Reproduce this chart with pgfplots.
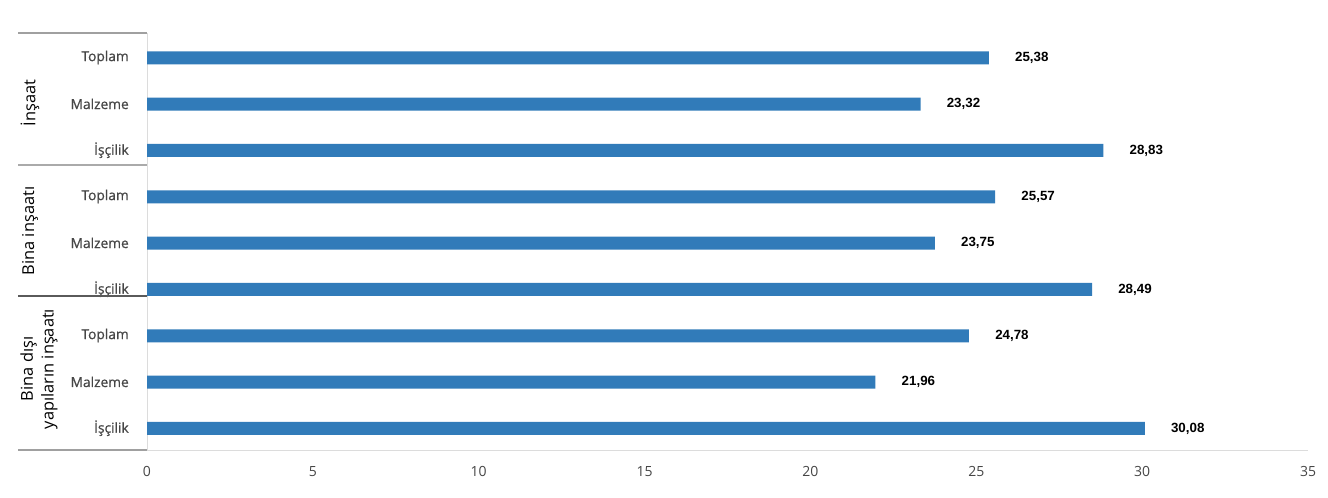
\documentclass[border=0pt]{standalone}
\usepackage{pgfplots}
\pgfplotsset{compat=1.18}
\usepackage{fontspec}
\setmainfont{Open Sans}
\newfontfamily\catfont[FakeBold=0.7]{Open Sans}
\newfontfamily\valfont{Liberation Sans}
\definecolor{barblue}{RGB}{49,123,185}
\definecolor{lbl}{RGB}{70,70,70}
\definecolor{axl}{RGB}{220,220,220}
\begin{document}
\begin{tikzpicture}
\begin{scope}[x=0.75pt,y=-0.75pt]
\useasboundingbox (0,0) rectangle (1328,497);
\end{scope}
\begin{axis}[
  at={(110.25pt,-337.5pt)}, anchor=south west,
  scale only axis, width=870.75pt, height=312.75pt,
  xbar, bar width=9.75pt,
  xmin=0, xmax=35, ymin=-0.5, ymax=8.5, y dir=reverse,
  ytick={0,...,8},
  yticklabels={Toplam,Malzeme,İşçilik,Toplam,Malzeme,İşçilik,Toplam,Malzeme,İşçilik},
  xtick={0,5,...,35},
  major tick length=0pt,
  axis x line*=bottom, axis y line*=left,
  x axis line style={draw=axl},
  y axis line style={draw=axl},
  /pgf/number format/assume math mode=true,
  xticklabel style={font=\fontsize{10.5}{12}\selectfont, text=lbl, inner sep=0pt, yshift=-12pt},
  yticklabel style={font=\catfont\fontsize{10.3}{12}\selectfont, text=lbl, anchor=east, inner sep=0pt, xshift=-13.5pt, yshift=-1pt},
  point meta=x,
  nodes near coords={\pgfmathprintnumber[fixed,fixed zerofill,precision=2,use comma,assume math mode=true]{\pgfplotspointmeta}},
  every node near coord/.append style={font=\valfont\bfseries\fontsize{10}{12}\selectfont, text=black, anchor=west, inner sep=0pt, xshift=19.5pt},
]
\addplot[fill=barblue, draw=none, bar shift=-1.2pt] coordinates {
 (25.38,0) (23.32,1) (28.83,2)
 (25.57,3) (23.75,4) (28.49,5)
 (24.78,6) (21.96,7) (30.08,8)
};
\end{axis}
\begin{scope}[x=0.75pt,y=-0.75pt]
\draw[draw={rgb,255:red,160;green,160;blue,160}, line width=1pt] (18,33) -- (147,33);
\draw[draw={rgb,255:red,170;green,170;blue,170}, line width=1pt] (18,165) -- (147,165);
\draw[draw={rgb,255:red,90;green,90;blue,90}, line width=1.3pt] (18,296) -- (147,296);
\draw[draw={rgb,255:red,160;green,160;blue,160}, line width=1.2pt] (18,450) -- (147,450);
\node[rotate=90, font=\fontsize{12.3}{14}\selectfont] at (30,103) {İnşaat};
\node[rotate=90, font=\fontsize{12.3}{14}\selectfont] at (30,231) {Bina inşaatı};
\node[rotate=90, font=\fontsize{12.3}{15.5}\selectfont, align=center] at (39,369) {Bina dışı\\yapıların inşaatı};
\end{scope}
\end{tikzpicture}
\end{document}
